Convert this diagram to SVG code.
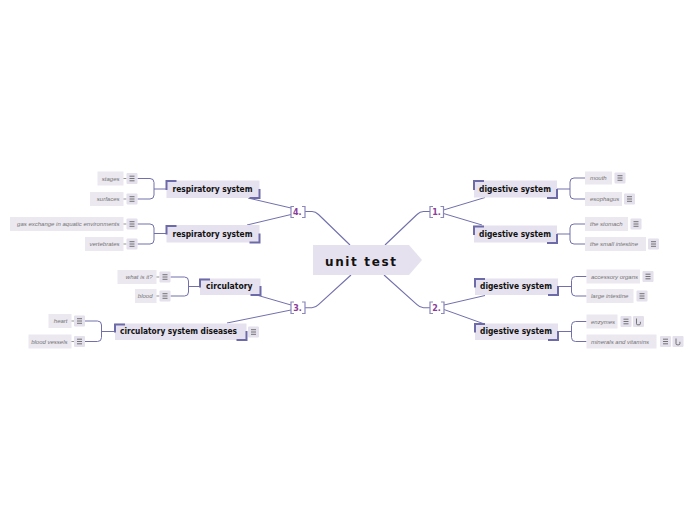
<svg xmlns="http://www.w3.org/2000/svg" width="696" height="520" viewBox="0 0 696 520">
<defs>
<style>
.bg{fill:#ffffff}
.node{fill:#e6e1ee}
.child{fill:#ebe8f0}
.icon{fill:#e4e0ec}
.deco{fill:none;stroke:#6c6aa8;stroke-width:2}
.ln{fill:none;stroke:#7170ad;stroke-width:1}
.cl{fill:none;stroke:#7170ad;stroke-width:1.1}
.br{fill:none;stroke:#8a87bb;stroke-width:1.2}
.num{font-family:"DejaVu Sans",sans-serif;font-weight:bold;font-size:8px;fill:#8a3c99}
.nt{font-family:"DejaVu Sans",sans-serif;font-weight:bold;font-size:8px;fill:#111}
.ct{font-family:"Liberation Sans",sans-serif;font-style:italic;font-size:6px;fill:#737373}
.ic{fill:none;stroke:#555;stroke-width:0.8}
.dash{stroke:#666;stroke-width:0.7}
</style>
<g id="menu"><rect class="icon" x="0" y="0" width="11" height="11" rx="1"/><path class="ic" d="M3,3.2H8M3,5.5H8M3,7.8H8"/></g>
<g id="link"><rect class="icon" x="0" y="0" width="11" height="11" rx="1"/><path class="ic" d="M3.5,2.5V7.6Q3.5,8.8 4.7,8.8H6.2Q7.4,8.8 7.4,7.6V5.8"/></g>
</defs>
<rect class="bg" x="0" y="0" width="696" height="520"/>

<g id="connectors">
<path class="cl" d="M305,211.5H312Q315.5,211.5 318.5,214.5L350,245"/>
<path class="cl" d="M430,211.5H423.5Q420,211.5 417,214.5L385,245"/>
<path class="cl" d="M305,307.7H312Q315.5,307.7 318.5,304.7L351,275"/>
<path class="cl" d="M430,307.7H423.5Q420,307.7 417,304.7L384,275"/>
<path class="ln" d="M443.5,210L485,197.5"/>
<path class="ln" d="M443.5,213.5L482,225"/>
<path class="ln" d="M444,305L485,295.5"/>
<path class="ln" d="M444,309.5L483,323.5"/>
<path class="ln" d="M291,208L248,198"/>
<path class="ln" d="M291,214.5L247,225"/>
<path class="ln" d="M291,305L256.5,295"/>
<path class="ln" d="M291,310L227,323"/>
<path class="ln" d="M557,189H570M585,178H574Q570,178 570,182V195Q570,199 574,199H585"/>
<path class="ln" d="M557,234H570M585,224H574Q570,224 570,228V240Q570,244 574,244H585"/>
<path class="ln" d="M558,286.5H571.5M586.5,276.5H575.5Q571.5,276.5 571.5,280.5V292Q571.5,296 575.5,296H586.5"/>
<path class="ln" d="M558,331.5H571.5M586.5,321.5H575.5Q571.5,321.5 571.5,325.5V337.5Q571.5,341.5 575.5,341.5H586.5"/>
<path class="ln" d="M166.5,189H154M137.5,178.5H150Q154,178.5 154,182.5V195Q154,199 150,199H137.5"/>
<path class="ln" d="M166.5,233.5H154M137.5,224H150Q154,224 154,228V240Q154,244 150,244H137.5"/>
<path class="ln" d="M200,286.5H188.5M170.5,277H184.5Q188.5,277 188.5,281V292Q188.5,296 184.5,296H170.5"/>
<path class="ln" d="M115,331.5H101.5M85,321H97.5Q101.5,321 101.5,325V337.5Q101.5,341.5 97.5,341.5H85"/>
</g>

<g id="root">
<polygon class="node" points="313,245 409,245 422,260 409,275 313,275"/>
<text x="325" y="266" font-family="DejaVu Sans, sans-serif" font-weight="bold" font-size="12" fill="#111" textLength="71" lengthAdjust="spacing">unit test</text>
</g>

<g id="b1">
<path class="br" d="M433,206.5H430V217.5H433M440.5,206.5H443.5V217.5H440.5"/>
<text class="num" x="432.3" y="215">1.</text>
</g>
<g id="b2">
<path class="br" d="M433,302H430V313.5H433M441,302H444V313.5H441"/>
<text class="num" x="432.3" y="311">2.</text>
</g>
<g id="b3">
<path class="br" d="M294,302H291V313.5H294M302,302H305V313.5H302"/>
<text class="num" x="293.3" y="311">3.</text>
</g>
<g id="b4">
<path class="br" d="M294,206.5H291V217.5H294M302,206.5H305V217.5H302"/>
<text class="num" x="293" y="215">4.</text>
</g>

<g id="dig1">
<rect class="node" x="474" y="180.5" width="83" height="17"/>
<path class="deco" d="M474,190V181H484M547,198H557V189"/>
<text class="nt" x="479" y="192" textLength="72" lengthAdjust="spacingAndGlyphs">digestive system</text>
</g>
<g id="mouth">
<rect class="child" x="585" y="171.5" width="27" height="13"/>
<text class="ct" x="590" y="180">mouth</text>
<use href="#menu" x="614.5" y="172.5"/>
</g>
<g id="esophagus">
<rect class="child" x="585" y="192" width="37" height="14"/>
<text class="ct" x="590" y="201">esophagus</text>
<use href="#menu" x="624" y="193.5"/>
</g>
<g id="dig2">
<rect class="node" x="474" y="225.5" width="83" height="17"/>
<path class="deco" d="M474,235V226.5H484M547,243H557V234"/>
<text class="nt" x="479" y="236.5" textLength="72" lengthAdjust="spacingAndGlyphs">digestive system</text>
</g>
<g id="stomach">
<rect class="child" x="585" y="217" width="43" height="14"/>
<text class="ct" x="590" y="226">the stomach</text>
<use href="#menu" x="630.5" y="218.5"/>
</g>
<g id="smallint">
<rect class="child" x="585" y="237" width="61" height="14"/>
<text class="ct" x="590" y="246">the small intestine</text>
<use href="#menu" x="648" y="238.5"/>
</g>

<g id="dig3">
<rect class="node" x="475" y="278.5" width="83" height="16.5"/>
<path class="deco" d="M475,287.5V279H485M548,295H558V286"/>
<text class="nt" x="480" y="289" textLength="72" lengthAdjust="spacingAndGlyphs">digestive system</text>
</g>
<g id="accessory">
<rect class="child" x="586.5" y="269.5" width="53.5" height="14"/>
<text class="ct" x="591" y="278.5">accessory organs</text>
<use href="#menu" x="642.5" y="271"/>
</g>
<g id="largeint">
<rect class="child" x="586.5" y="289" width="47" height="14"/>
<text class="ct" x="591" y="298">large intestine</text>
<use href="#menu" x="636.5" y="290.5"/>
</g>
<g id="dig4">
<rect class="node" x="475" y="323.5" width="83" height="16.5"/>
<path class="deco" d="M475,332.5V324H485M548,340H558V331"/>
<text class="nt" x="480" y="334" textLength="72" lengthAdjust="spacingAndGlyphs">digestive system</text>
</g>
<g id="enzymes">
<rect class="child" x="586.5" y="314.5" width="31" height="14"/>
<text class="ct" x="591" y="323.5">enzymes</text>
<use href="#menu" x="620.5" y="316"/>
<use href="#link" x="633" y="316"/>
</g>
<g id="minerals">
<rect class="child" x="586.5" y="334.5" width="70" height="14"/>
<text class="ct" x="591" y="343.5">minerals and vitamins</text>
<use href="#menu" x="660" y="336"/>
<use href="#link" x="672.5" y="336"/>
</g>

<g id="resp1">
<rect class="node" x="166.5" y="180.5" width="93" height="17.5"/>
<path class="deco" d="M166.5,190V181H176.5M249.5,198H259.5V189"/>
<text class="nt" x="172.5" y="192" textLength="80" lengthAdjust="spacingAndGlyphs">respiratory system</text>
</g>
<g id="stages">
<rect class="child" x="97.5" y="171.5" width="26" height="14"/>
<text class="ct" x="119.5" y="180.5" text-anchor="end">stages</text>
<line class="dash" x1="123.5" y1="178.5" x2="126.5" y2="178.5"/>
<use href="#menu" x="126.5" y="173"/>
</g>
<g id="surfaces">
<rect class="child" x="90" y="192" width="33.5" height="14"/>
<text class="ct" x="119.5" y="201" text-anchor="end">surfaces</text>
<line class="dash" x1="123.5" y1="199" x2="126.5" y2="199"/>
<use href="#menu" x="126.5" y="193.5"/>
</g>
<g id="resp2">
<rect class="node" x="166.5" y="225" width="93" height="17.5"/>
<path class="deco" d="M166.5,234.5V226H176.5M249.5,242.5H259.5V233.5"/>
<text class="nt" x="172.5" y="236.5" textLength="80" lengthAdjust="spacingAndGlyphs">respiratory system</text>
</g>
<g id="gasexchange">
<rect class="child" x="10" y="217" width="113.5" height="14"/>
<text class="ct" x="119.5" y="226" text-anchor="end">gas exchange in aquatic environments</text>
<line class="dash" x1="123.5" y1="224" x2="126.5" y2="224"/>
<use href="#menu" x="126.5" y="218.5"/>
</g>
<g id="vertebrates">
<rect class="child" x="85" y="237" width="38.5" height="14"/>
<text class="ct" x="119.5" y="246" text-anchor="end">vertebrates</text>
<line class="dash" x1="123.5" y1="244" x2="126.5" y2="244"/>
<use href="#menu" x="126.5" y="238.5"/>
</g>

<g id="circulatory">
<rect class="node" x="200" y="278.5" width="60.5" height="16.5"/>
<path class="deco" d="M200,287.5V279.5H210M250.5,295H260.5V286"/>
<text class="nt" x="206" y="289" textLength="46.5" lengthAdjust="spacingAndGlyphs">circulatory</text>
</g>
<g id="whatisit">
<rect class="child" x="117.5" y="270" width="39" height="14"/>
<text class="ct" x="152.5" y="279" text-anchor="end">what is it?</text>
<line class="dash" x1="156.5" y1="277" x2="159.5" y2="277"/>
<use href="#menu" x="159.5" y="271.5"/>
</g>
<g id="blood">
<rect class="child" x="135" y="289" width="21.5" height="14"/>
<text class="ct" x="152.5" y="298" text-anchor="end">blood</text>
<line class="dash" x1="156.5" y1="296" x2="159.5" y2="296"/>
<use href="#menu" x="159.5" y="290.5"/>
</g>
<g id="diseases">
<rect class="node" x="115" y="323.5" width="131.5" height="16.5"/>
<path class="deco" d="M115,332.5V324.5H125M236.5,340H246.5V331"/>
<text class="nt" x="120" y="334" textLength="117" lengthAdjust="spacingAndGlyphs">circulatory system diseases</text>
<use href="#menu" x="248" y="326.5"/>
</g>
<g id="heart">
<rect class="child" x="48.5" y="314" width="23" height="14"/>
<text class="ct" x="67.5" y="323" text-anchor="end">heart</text>
<line class="dash" x1="71.5" y1="321" x2="74" y2="321"/>
<use href="#menu" x="74" y="315.5"/>
</g>
<g id="bloodvessels">
<rect class="child" x="28.5" y="334.5" width="43" height="14"/>
<text class="ct" x="67.5" y="343.5" text-anchor="end">blood vessels</text>
<line class="dash" x1="71.5" y1="341.5" x2="74" y2="341.5"/>
<use href="#menu" x="74" y="336"/>
</g>
</svg>
